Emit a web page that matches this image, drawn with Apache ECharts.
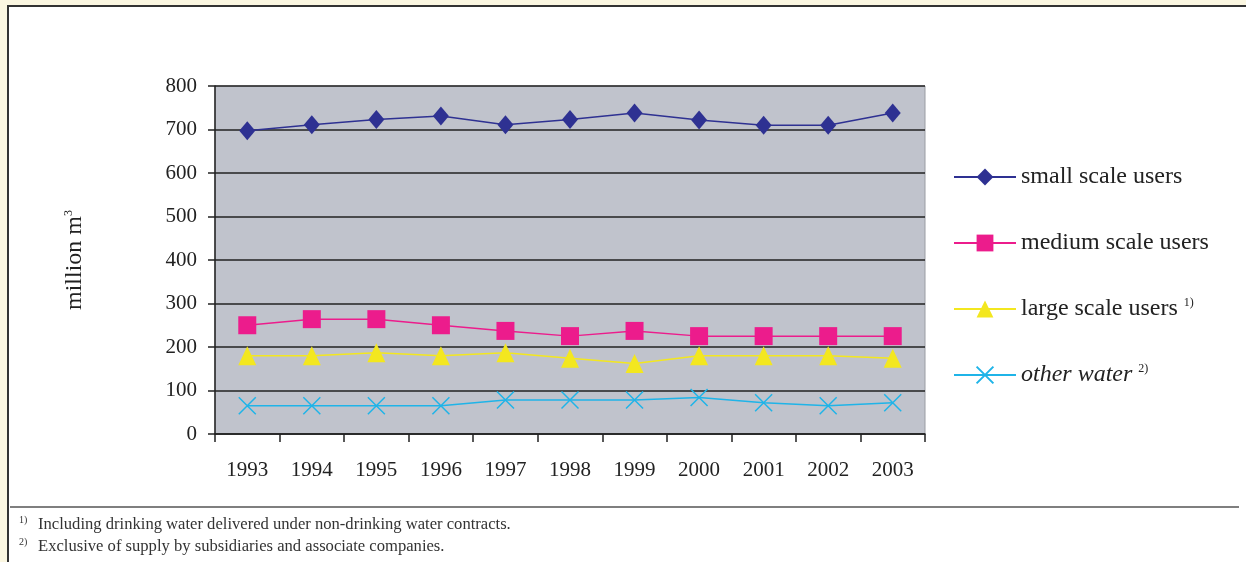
<!DOCTYPE html>
<html>
<head>
<meta charset="utf-8">
<script src="https://cdn.jsdelivr.net/npm/echarts@6/dist/echarts.min.js"></script>
<style>
html,body{margin:0;padding:0;background:#fbf7e1;}
#c{width:1246px;height:562px;}
</style>
</head>
<body>
<div id="c"></div>
<script>
const years = ['1993','1994','1995','1996','1997','1998','1999','2000','2001','2002','2003'];
const smallScale = [697, 711, 723, 731, 711, 723, 738, 722, 710, 710, 738];
const mediumScale = [250, 264, 264, 250, 237, 225, 237, 225, 225, 225, 225];
const largeScale = [180, 180, 187, 180, 187, 174, 162, 180, 180, 180, 174];
const otherWater = [65, 65, 65, 65, 78, 78, 78, 84, 72, 65, 72];
const yTicks = {min: 0, max: 800, interval: 100};
const footnotes = [
  ['1)', 'Including drinking water delivered under non-drinking water contracts.'],
  ['2)', 'Exclusive of supply by subsidiaries and associate companies.']
];

const serif = '"Liberation Serif","DejaVu Serif",serif';
const chart = echarts.init(document.getElementById('c'), null, {renderer: 'canvas'});

const crossPath = 'path://M0,0 L10,10 M10,0 L0,10';

const option = {
  animation: false,
  backgroundColor: 'transparent',
  textStyle: {fontFamily: serif},
  graphic: [
    {type: 'rect', z: -10, shape: {x: 8, y: 6, width: 1250, height: 570},
      style: {fill: '#ffffff', stroke: '#333333', lineWidth: 2}},
    {type: 'line', z: 10, shape: {x1: 10, y1: 507, x2: 1239, y2: 507},
      style: {stroke: '#555555', lineWidth: 1.5}},
    {type: 'text', left: 19, top: 515, style: {text: footnotes[0][0], fontSize: 10, fontFamily: serif, fill: '#333'}},
    {type: 'text', left: 38, top: 516, style: {text: footnotes[0][1], fontSize: 16.6, fontFamily: serif, fill: '#333'}},
    {type: 'text', left: 19, top: 537, style: {text: footnotes[1][0], fontSize: 10, fontFamily: serif, fill: '#333'}},
    {type: 'text', left: 38, top: 538, style: {text: footnotes[1][1], fontSize: 16.6, fontFamily: serif, fill: '#333'}}
  ],
  grid: {left: 215, top: 86, right: 321, bottom: 128, show: true,
    backgroundColor: '#c0c3cc', borderColor: '#9a9ca3', borderWidth: 1},
  legend: {
    orient: 'vertical', left: 948, top: 160, itemGap: 42,
    itemWidth: 62, itemHeight: 21,
    textStyle: {fontFamily: serif, fontSize: 24, color: '#222',
      rich: {
        n: {fontFamily: serif, fontSize: 24, color: '#222'},
        i: {fontFamily: serif, fontSize: 24, color: '#222', fontStyle: 'italic'},
        s: {fontFamily: serif, fontSize: 12, color: '#222', verticalAlign: 'top', padding: [0, 0, 12, 0]}
      }},
    formatter: function (name) {
      if (name === 'large scale users') return '{n|large scale users} {s|1)}';
      if (name === 'other water') return '{i|other water} {s|2)}';
      return '{n|' + name + '}';
    },
    data: ['small scale users', 'medium scale users', 'large scale users', 'other water']
  },
  xAxis: {
    type: 'category', data: years, boundaryGap: true,
    axisLine: {lineStyle: {color: '#222', width: 1.5}},
    axisTick: {show: true, length: 8, inside: false, lineStyle: {color: '#222', width: 1.5}},
    axisLabel: {fontFamily: serif, fontSize: 21, color: '#222', margin: 26},
    splitLine: {show: false}
  },
  yAxis: {
    type: 'value', min: yTicks.min, max: yTicks.max, interval: yTicks.interval,
    name: '{a|million m}{b|3}', nameLocation: 'middle', nameGap: 128, nameRotate: 90,
    nameTextStyle: {rich: {
      a: {fontFamily: serif, fontSize: 24, color: '#222'},
      b: {fontFamily: serif, fontSize: 12, color: '#222', verticalAlign: 'top', padding: [0, 0, 12, 0]}
    }},
    axisLine: {show: true, lineStyle: {color: '#222', width: 1.5}},
    axisTick: {show: true, length: 7, lineStyle: {color: '#222', width: 1.5}},
    axisLabel: {fontFamily: serif, fontSize: 21, color: '#222', margin: 18},
    splitLine: {show: true, lineStyle: {color: '#222', width: 1.5}}
  },
  series: [
    {name: 'small scale users', type: 'line', data: smallScale,
      symbol: 'diamond', symbolSize: [16, 19],
      lineStyle: {color: '#2e3192', width: 1.5},
      itemStyle: {color: '#2e3192', borderWidth: 0}},
    {name: 'medium scale users', type: 'line', data: mediumScale,
      symbol: 'rect', symbolSize: [18, 18],
      lineStyle: {color: '#ec1c8c', width: 1.5},
      itemStyle: {color: '#ec1c8c', borderWidth: 0}},
    {name: 'large scale users', type: 'line', data: largeScale,
      symbol: 'triangle', symbolSize: [18, 19],
      lineStyle: {color: '#f3e71f', width: 1.5},
      itemStyle: {color: '#f3e71f', borderWidth: 0}},
    {name: 'other water', type: 'line', data: otherWater,
      symbol: crossPath, symbolSize: [17, 17],
      lineStyle: {color: '#1fb4e8', width: 1.5},
      itemStyle: {color: 'none', borderColor: '#1fb4e8', borderWidth: 1.5}}
  ]
};
chart.setOption(option);
</script>
</body>
</html>
